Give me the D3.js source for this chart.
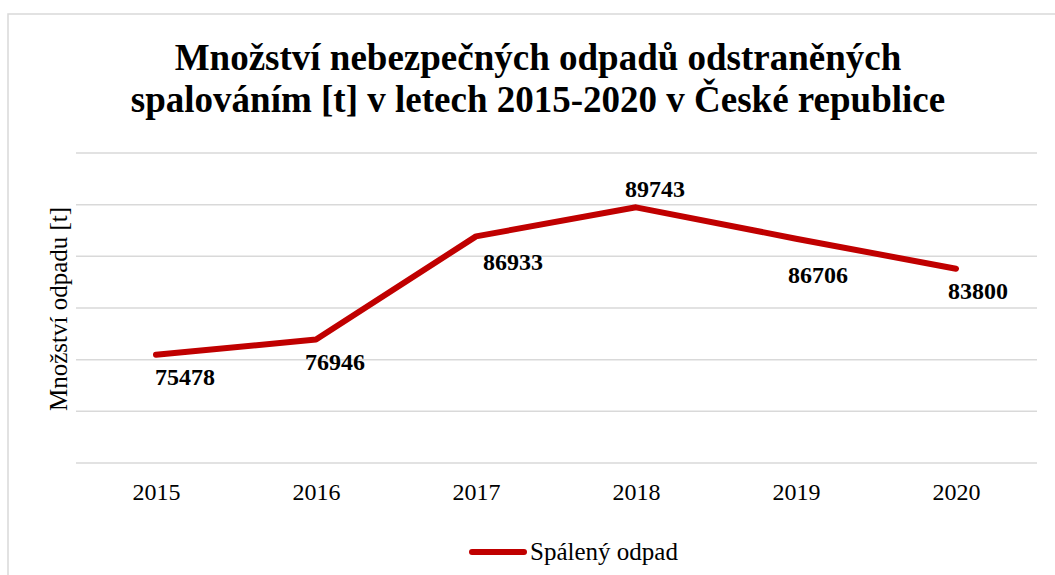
<!DOCTYPE html>
<html>
<head>
<meta charset="utf-8">
<script src="https://cdn.jsdelivr.net/npm/d3@7"></script>
<style>
  body { margin: 0; background: #fff; }
</style>
</head>
<body>
<svg id="chart" width="1055" height="575"></svg>
<script>
const years = ["2015", "2016", "2017", "2018", "2019", "2020"];
const values = [75478, 76946, 86933, 89743, 86706, 83800];
const yTicks = [65000, 70000, 75000, 80000, 85000, 90000, 95000];
const seriesName = "Spálený odpad";

// label placement relative to each point (px): [dx, dy to baseline]
const labelOffsets = [[29, 30], [19, 30], [37, 34], [19, -10], [22, 44], [22, 30]];

const serif = "Liberation Serif, Times New Roman, serif";

const svg = d3.select("#chart");

svg.append("rect")
    .attr("x", 8).attr("y", 14)
    .attr("width", 1100).attr("height", 620)
    .attr("fill", "none")
    .attr("stroke", "#d9d9d9")
    .attr("stroke-width", 1.5);

const x = d3.scalePoint().domain(years).range([76, 1036]).padding(0.5);
const y = d3.scaleLinear().domain([65000, 95000]).range([463, 153]);

// gridlines
svg.append("g")
    .selectAll("line")
    .data(yTicks)
    .enter()
    .append("line")
    .attr("x1", 76).attr("x2", 1037)
    .attr("y1", d => y(d)).attr("y2", d => y(d))
    .attr("stroke", "#d9d9d9")
    .attr("stroke-width", 1.5);

// x axis labels
const xAxis = d3.axisBottom(x).tickSize(0).tickPadding(0);
const gx = svg.append("g")
    .attr("transform", `translate(0,${y(65000)})`)
    .call(xAxis);
gx.select(".domain").remove();
gx.selectAll("text")
    .attr("y", 37)
    .attr("dy", 0)
    .attr("fill", "#000")
    .style("font-family", serif)
    .style("font-size", "24px");

// title
const title = svg.append("text")
    .attr("text-anchor", "middle")
    .style("font-family", serif)
    .style("font-size", "37px")
    .style("font-weight", "bold");
title.append("tspan").attr("x", 538).attr("y", 70)
    .text("Množství nebezpečných odpadů odstraněných");
title.append("tspan").attr("x", 538).attr("y", 112)
    .text("spalováním [t] v letech 2015-2020 v České republice");

// y axis title
svg.append("text")
    .attr("transform", "translate(67,309) rotate(-90)")
    .attr("text-anchor", "middle")
    .style("font-family", serif)
    .style("font-size", "25px")
    .text("Množství odpadu [t]");

const data = years.map((yr, i) => ({ year: yr, value: values[i], off: labelOffsets[i] }));

const line = d3.line()
    .x(d => x(d.year))
    .y(d => y(d.value));

svg.append("path")
    .datum(data)
    .attr("fill", "none")
    .attr("stroke", "#c00000")
    .attr("stroke-width", 6)
    .attr("stroke-linecap", "round")
    .attr("stroke-linejoin", "round")
    .attr("d", line);

svg.append("g")
    .selectAll("text")
    .data(data)
    .enter()
    .append("text")
    .attr("x", d => x(d.year) + d.off[0])
    .attr("y", d => y(d.value) + d.off[1])
    .attr("text-anchor", "middle")
    .style("font-family", serif)
    .style("font-size", "24px")
    .style("font-weight", "bold")
    .text(d => d.value);

// legend
const legend = svg.append("g");
legend.append("line")
    .attr("x1", 472).attr("x2", 524)
    .attr("y1", 552).attr("y2", 552)
    .attr("stroke", "#c00000")
    .attr("stroke-width", 6)
    .attr("stroke-linecap", "round");
legend.append("text")
    .attr("x", 530).attr("y", 560)
    .style("font-family", serif)
    .style("font-size", "25px")
    .text(seriesName);
</script>
</body>
</html>
